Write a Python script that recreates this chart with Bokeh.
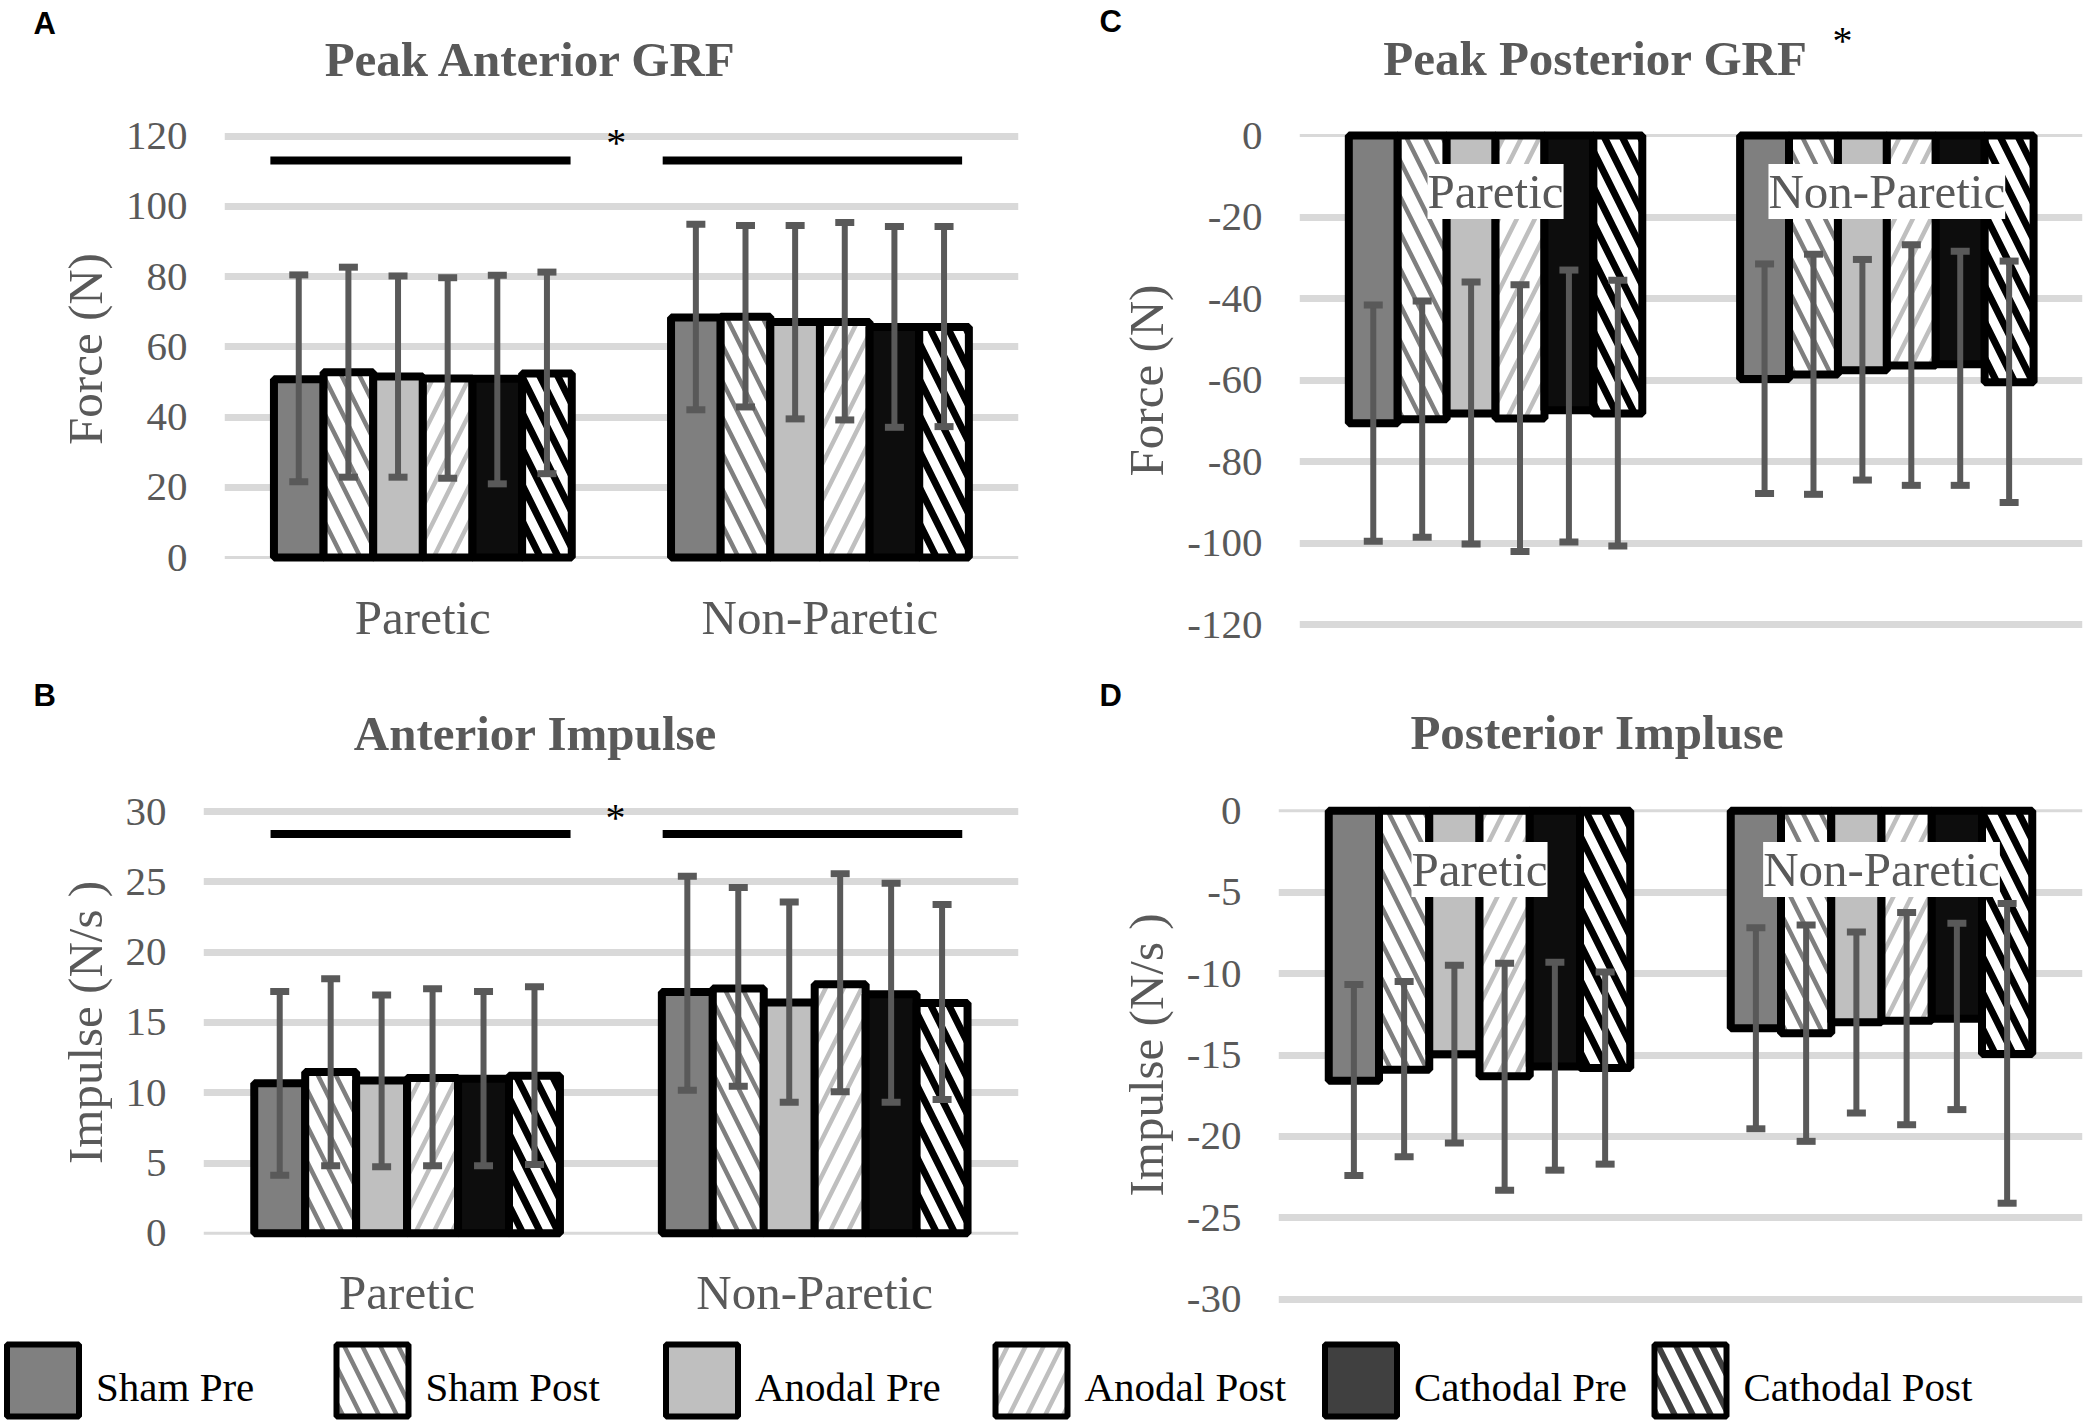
from bokeh.plotting import figure
from bokeh.models import Range1d, FixedTicker, ColumnDataSource, Whisker, TeeHead, Label, Span
from bokeh.layouts import column, row
from bokeh.embed import file_html
from bokeh.resources import INLINE
from bokeh.core.properties import value

# ---------------- data ----------------
series = ["Sham Pre", "Sham Post", "Anodal Pre", "Anodal Post", "Cathodal Pre", "Cathodal Post"]
sides = ["Paretic", "Non-Paretic"]
side_pos = [0.5, 1.5]
panel_letters = ["A", "C", "B", "D"]
panel_titles = ["Peak Anterior GRF", "Peak Posterior GRF", "Anterior Impulse", "Posterior Impluse"]

# A  Peak Anterior GRF (N)
a_ticks = [0, 20, 40, 60, 80, 100, 120]
a_tick_labels = ["0", "20", "40", "60", "80", "100", "120"]
a_par_mean = [50.8, 52.8, 51.6, 51.0, 50.9, 52.4]
a_par_lo = [21.6, 22.9, 22.9, 22.6, 21.0, 23.9]
a_par_hi = [80.5, 82.7, 80.2, 79.7, 80.4, 81.3]
a_non_mean = [68.4, 68.6, 67.1, 67.1, 65.7, 65.7]
a_non_lo = [42.1, 42.9, 39.5, 39.2, 37.1, 37.3]
a_non_hi = [94.9, 94.6, 94.6, 95.4, 94.3, 94.3]
a_sig_x0 = [0.116, 1.104]
a_sig_x1 = [0.872, 1.858]
a_sig_y = [113.1, 113.1]
a_star = (0.987, 118.3)

# B  Anterior Impulse (N/s)
b_ticks = [0, 5, 10, 15, 20, 25, 30]
b_tick_labels = ["0", "5", "10", "15", "20", "25", "30"]
b_par_mean = [10.67, 11.48, 10.87, 11.04, 10.99, 11.21]
b_par_lo = [4.12, 4.81, 4.73, 4.81, 4.81, 4.90]
b_par_hi = [17.19, 18.10, 16.95, 17.39, 17.19, 17.54]
b_non_mean = [17.17, 17.41, 16.41, 17.71, 17.00, 16.38]
b_non_lo = [10.18, 10.45, 9.32, 10.06, 9.32, 9.52]
b_non_hi = [25.39, 24.60, 23.57, 25.58, 24.90, 23.38]
b_sig_x0 = [0.165, 1.127]
b_sig_x1 = [0.901, 1.862]
b_sig_y = [28.4, 28.4]
b_star = (1.011, 29.55)

# C  Peak Posterior GRF (N)
c_ticks = [0, -20, -40, -60, -80, -100, -120]
c_tick_labels = ["0", "-20", "-40", "-60", "-80", "-100", "-120"]
c_par_mean = [-70.6, -69.6, -68.2, -69.4, -67.4, -68.2]
c_par_lo = [-99.5, -98.5, -100.2, -102.0, -99.7, -100.7]
c_par_hi = [-41.6, -40.6, -35.9, -36.6, -33.0, -35.5]
c_non_mean = [-59.7, -58.6, -57.6, -56.4, -56.1, -60.5]
c_non_lo = [-87.8, -88.0, -84.5, -85.8, -85.8, -90.0]
c_non_hi = [-31.5, -29.1, -30.4, -26.8, -28.4, -30.8]

# D  Posterior Impluse (N/s)
d_ticks = [0, -5, -10, -15, -20, -25, -30]
d_tick_labels = ["0", "-5", "-10", "-15", "-20", "-25", "-30"]
d_par_mean = [-16.58, -15.90, -14.95, -16.30, -15.70, -15.80]
d_par_lo = [-22.40, -21.25, -20.40, -23.30, -22.07, -21.70]
d_par_hi = [-10.66, -10.49, -9.49, -9.37, -9.30, -9.90]
d_non_mean = [-13.36, -13.66, -12.98, -12.90, -12.77, -14.93]
d_non_lo = [-19.53, -20.30, -18.56, -19.28, -18.35, -24.10]
d_non_hi = [-7.19, -7.02, -7.44, -6.24, -6.91, -5.69]

# ---------------- styles ----------------
GRAY_TXT = "#595959"
GRID = "#d9d9d9"
SERIF = "Liberation Serif"
bar_fill = ["#7f7f7f", "white", "#bfbfbf", "white", "#0d0d0d", "white"]
bar_hatch = ["blank", "\\", "blank", "/", "blank", "\\"]
bar_hatch_col = ["#7f7f7f", "#7f7f7f", "#bfbfbf", "#bfbfbf", "black", "black"]
bar_hatch_w = [1, 4.5, 1, 4.5, 1, 7]
leg_fill = ["#808080", "white", "#bfbfbf", "white", "#404040", "white"]
leg_hatch_col = ["#808080", "#808080", "#bfbfbf", "#bfbfbf", "#404040", "#404040"]
leg_hatch_w = [1, 4.5, 1, 4.5, 1, 6]
BAR_W = 0.125
HSCALE = 36
PAGE_W = 2086


def make_panel(origin, size, frame, zero_px, ppu, cat_w, ticks, tick_labels,
               ylabel, means, lows, highs, show_cats, sig=None, star=None,
               cat_offset=57):
    ox, oy = origin
    w, h = size
    fl, fr, ft, fb = frame
    mbl = int(round(fl - ox))
    mbt = int(round(ft - oy))
    fw = int(round(fr - ox)) - mbl
    fh = int(round(fb - oy)) - mbt
    mbr = w - mbl - fw
    mbb = h - mbt - fh
    fl_a, fr_a = ox + mbl, ox + mbl + fw
    ft_a, fb_a = oy + mbt, oy + mbt + fh
    dx = lambda rx: (rx - fl) / cat_w
    dy = lambda ry: (zero_px - ry) / ppu
    kw = {}
    if not show_cats:
        kw["x_axis_location"] = None
    p = figure(width=w, height=h, x_range=Range1d(dx(fl_a), dx(fr_a)),
               y_range=Range1d(dy(fb_a), dy(ft_a)), output_backend="svg",
               toolbar_location=None, min_border_left=mbl, min_border_right=mbr,
               min_border_top=mbt, min_border_bottom=mbb, frame_align=False, **kw)
    p.outline_line_color = None
    p.background_fill_color = "white"
    p.border_fill_color = "white"
    p.xgrid.visible = False
    p.ygrid.ticker = FixedTicker(ticks=[t for t in ticks if t != 0])
    p.ygrid.grid_line_color = GRID
    p.ygrid.grid_line_width = 7
    p.add_layout(Span(location=0, dimension="width", line_color=GRID,
                      line_width=3, level="underlay"))
    ya = p.yaxis[0]
    ya.ticker = FixedTicker(ticks=ticks)
    ya.major_label_overrides = {t: s for t, s in zip(ticks, tick_labels)}
    ya.axis_line_color = None
    ya.major_tick_line_color = None
    ya.minor_tick_line_color = None
    ya.major_tick_out = 0
    ya.major_label_standoff = 37
    ya.major_label_text_font = SERIF
    ya.major_label_text_font_size = "41px"
    ya.major_label_text_color = GRAY_TXT
    ya.axis_label = ylabel
    ya.axis_label_text_font = SERIF
    ya.axis_label_text_font_size = "49px"
    ya.axis_label_text_font_style = "normal"
    ya.axis_label_text_color = GRAY_TXT
    ya.axis_label_standoff = 10
    if show_cats:
        xa = p.xaxis[0]
        xa.ticker = FixedTicker(ticks=side_pos)
        xa.major_label_overrides = {t: s for t, s in zip(side_pos, sides)}
        xa.axis_line_color = None
        xa.major_tick_line_color = None
        xa.minor_tick_line_color = None
        xa.major_tick_out = 0
        xa.major_label_standoff = 12
        xa.major_label_text_font = SERIF
        xa.major_label_text_font_size = "49px"
        xa.major_label_text_color = GRAY_TXT

    # bars
    for i in range(len(series)):
        xs = [c + (i - 2.5) * BAR_W for c in side_pos]
        tops = [means[0][i], means[1][i]]
        p.vbar(x=xs, top=tops, bottom=0, width=BAR_W, fill_color=bar_fill[i],
               line_color="black", line_width=8, hatch_pattern=bar_hatch[i],
               hatch_color=bar_hatch_col[i], hatch_weight=bar_hatch_w[i],
               hatch_scale=HSCALE)
    # error bars
    xs, lo, hi = [], [], []
    for g in range(2):
        for i in range(len(series)):
            xs.append(side_pos[g] + (i - 2.5) * BAR_W)
            lo.append(lows[g][i])
            hi.append(highs[g][i])
    src = ColumnDataSource(dict(x=xs, lo=lo, hi=hi))
    wk = Whisker(source=src, base="x", lower="lo", upper="hi",
                 line_color=GRAY_TXT, line_width=6,
                 upper_head=TeeHead(size=19, line_color=GRAY_TXT, line_width=7),
                 lower_head=TeeHead(size=19, line_color=GRAY_TXT, line_width=7),
                 level="overlay")
    p.add_layout(wk)

    if sig is not None:
        x0, x1, ys = sig
        p.segment(x0=x0, x1=x1, y0=ys, y1=ys, line_color="black", line_width=8)
    if star is not None:
        p.add_layout(Label(x=star[0], y=star[1], text="*", text_font=SERIF,
                           text_font_size="40px", text_color="black",
                           text_align="center", text_baseline="alphabetic"))
    if not show_cats:
        for c, s in zip(side_pos, sides):
            p.add_layout(Label(x=c, y=dy(zero_px + cat_offset), text=s, text_font=SERIF,
                               text_font_size="49px", text_color=GRAY_TXT,
                               text_align="center", text_baseline="alphabetic",
                               background_fill_color="white"))
    return p


def band(y0, y1):
    p = figure(width=PAGE_W, height=y1 - y0, x_range=Range1d(0, PAGE_W),
               y_range=Range1d(y1, y0), output_backend="svg", toolbar_location=None,
               x_axis_location=None, y_axis_location=None, min_border=0,
               frame_align=False)
    p.outline_line_color = None
    p.grid.visible = False
    p.background_fill_color = "white"
    p.border_fill_color = "white"
    return p


def band_texts(p, letters, letter_xy, titles, title_xy):
    p.text(x=[q[0] for q in letter_xy], y=[q[1] for q in letter_xy], text=letters,
           text_font=value("Liberation Sans"), text_font_size="31px",
           text_font_style="bold", text_color="black", text_align="left",
           text_baseline="alphabetic")
    p.text(x=[q[0] for q in title_xy], y=[q[1] for q in title_xy], text=titles,
           text_font=value(SERIF), text_font_size="49px", text_font_style="bold",
           text_color=GRAY_TXT, text_align="center", text_baseline="alphabetic")


# ---- top band (titles A, C) ----
top = band(0, 108)
band_texts(top, panel_letters[:2], [(33, 22.7), (1099, 20.5)],
           panel_titles[:2], [(531, 59.4), (1595, 58.4)])
top.text(x=[1842], y=[39.7], text=["*"], text_font=value(SERIF), text_font_size="40px",
         text_color="black", text_align="center", text_baseline="alphabetic")

pA = make_panel((0, 108), (1040, 567), (223.8, 1018, 120, 577), 557.1, 3.5117, 397.1,
                a_ticks, a_tick_labels, "Force (N)",
                (a_par_mean, a_non_mean), (a_par_lo, a_non_lo), (a_par_hi, a_non_hi),
                True, sig=(a_sig_x0, a_sig_x1, a_sig_y), star=a_star)
pC = make_panel((1040, 108), (1046, 567), (1299.4, 2082, 115, 645), 135.0, 4.0775, 391.3,
                c_ticks, c_tick_labels, "Force (N)",
                (c_par_mean, c_non_mean), (c_par_lo, c_non_lo), (c_par_hi, c_non_hi),
                False, cat_offset=56)

# ---- middle band (titles B, D) ----
mid = band(675, 783)
band_texts(mid, panel_letters[2:], [(33, 695.4), (1099, 695.4)],
           panel_titles[2:], [(535, 733.4), (1597, 732.4)])

pB = make_panel((0, 783), (1040, 542), (202.8, 1018, 792, 1252), 1232.8, 14.06, 407.6,
                b_ticks, b_tick_labels, "Impulse (N/s )",
                (b_par_mean, b_non_mean), (b_par_lo, b_non_lo), (b_par_hi, b_non_hi),
                True, sig=(b_sig_x0, b_sig_x1, b_sig_y), star=b_star)
pD = make_panel((1040, 783), (1046, 542), (1278, 2082, 790, 1319), 810.3, 16.283, 402.0,
                d_ticks, d_tick_labels, "Impulse (N/s )",
                (d_par_mean, d_non_mean), (d_par_lo, d_non_lo), (d_par_hi, d_non_hi),
                False, cat_offset=58.7)

# ---------------- legend ----------------
pL = band(1325, 1423)
step = 329.5
lefts = [3.5 + i * step for i in range(len(series))]
pL.quad(left=[l + 3 for l in lefts], right=[l + 75 for l in lefts],
        top=[1344] * 6, bottom=[1416] * 6, fill_color=leg_fill,
        hatch_pattern=bar_hatch, hatch_color=leg_hatch_col, hatch_weight=leg_hatch_w,
        hatch_scale=HSCALE, line_color="black", line_width=6)
pL.text(x=[l + 92 for l in lefts], y=[1386.7] * 6, text=series,
        text_font=value(SERIF), text_font_size="41px", text_color="black",
        text_baseline="alphabetic", text_align="left")

layout = column(top, row(pA, pC), mid, row(pB, pD), pL)
open("out.html", "w").write(file_html(layout, INLINE))
